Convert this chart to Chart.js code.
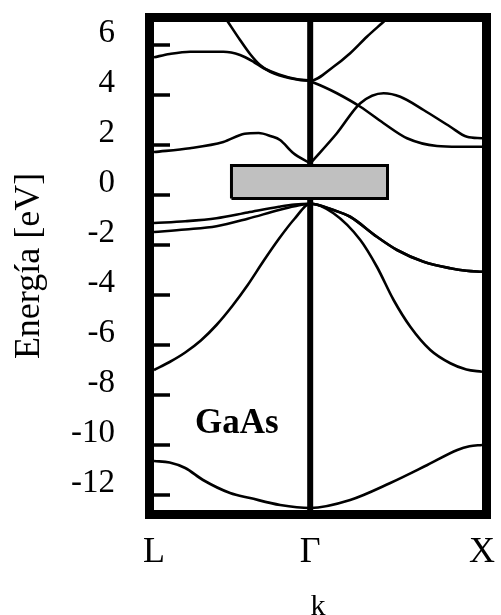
<!DOCTYPE html>
<html><head><meta charset="utf-8">
<script src="https://cdn.jsdelivr.net/npm/chart.js@4.4.1/dist/chart.umd.min.js"></script>
<style>html,body{margin:0;padding:0;background:#fff;overflow:hidden}canvas{display:block}</style>
</head><body>
<canvas id="c" width="501" height="615"></canvas>
<script>
// ---- axis definitions ----
const kPointLabels = ['L', 'Γ', 'X'];
const kPointValues = [-1, 0, 1.1];
const energyTicks = [6, 4, 2, 0, -2, -4, -6, -8, -10, -12];
const energyMin = -12.6, energyMax = 6.92;
const yTitle = 'Energía [eV]';
const xTitle = 'k';
const materialLabel = 'GaAs';

// ---- bands (k, E in eV) ----
const band1K = [-1, -0.9, -0.8, -0.686, -0.513, -0.385, -0.192, 0, 0.256, 0.513, 0.75, 0.942, 1.02, 1.1];
const band1E = [-10.64, -10.7, -10.92, -11.4, -11.92, -12.12, -12.4, -12.52, -12.2, -11.52, -10.8, -10.2, -10.05, -10.0];

const band2K = [-1, -0.9, -0.8, -0.7, -0.6, -0.5, -0.4, -0.3, -0.2, -0.1, 0, 0.149, 0.321, 0.427, 0.534, 0.641, 0.769, 0.897, 1.0, 1.1];
const band2E = [-7.0, -6.68, -6.3, -5.82, -5.2, -4.45, -3.6, -2.65, -1.75, -0.95, -0.35, -0.73, -1.8, -2.87, -4.2, -5.27, -6.2, -6.73, -6.98, -7.07];

const hhRightK = [0.149, 0.256, 0.427, 0.556, 0.726, 0.897, 1.0, 1.1];
const hhRightE = [-0.6, -0.87, -1.67, -2.2, -2.67, -2.93, -3.03, -3.07];

const band3LeftK = [-1, -0.8, -0.6, -0.4, -0.2, -0.1, 0];
const band3LeftE = [-1.12, -1.05, -0.93, -0.7, -0.47, -0.38, -0.35];
const band4LeftK = [-1, -0.8, -0.6, -0.4, -0.2, -0.1, 0];
const band4LeftE = [-1.48, -1.38, -1.25, -0.95, -0.6, -0.45, -0.35];

const condLeftK = [-1, -0.77, -0.556, -0.42, -0.33, -0.25, -0.193, -0.109, 0];
const condLeftE = [1.72, 1.87, 2.12, 2.45, 2.48, 2.35, 2.2, 1.68, 1.26];
const condRightK = [0, 0.171, 0.321, 0.47, 0.577, 0.726, 0.897, 1.004, 1.1];
const condRightE = [1.26, 2.47, 3.67, 4.07, 3.93, 3.4, 2.73, 2.33, 2.27];

const upperRightK = [0, 0.085, 0.171, 0.321, 0.47, 0.62, 0.812, 0.95, 1.1];
const upperRightE = [4.55, 4.33, 4.07, 3.53, 2.87, 2.27, 1.96, 1.93, 1.93];

const parabolaK = [-0.577, -0.526, -0.449, -0.385, -0.321, -0.256, -0.128, 0, 0.149, 0.256, 0.363, 0.47, 0.553];
const parabolaE = [7.4, 6.92, 6.2, 5.64, 5.2, 4.93, 4.67, 4.57, 5.13, 5.67, 6.33, 6.93, 7.4];

const upperLeftK = [-1, -0.9, -0.769, -0.556, -0.449, -0.363, -0.3, -0.2, -0.1, 0];
const upperLeftE = [5.51, 5.64, 5.73, 5.73, 5.6, 5.33, 5.08, 4.82, 4.65, 4.57];

// gap box and Γ line
const gapBoxK = [-0.504, -0.504, 0.495, 0.495, -0.504];
const gapBoxE = [-0.14, 1.18, 1.18, -0.14, -0.14];
const gammaLineK = [0, 0];
const gammaLineE = [energyMin - 1, energyMax + 1];

function pts(ks, es) { return ks.map((k, i) => ({ x: k, y: es[i] })); }
function join(aK, aE, bK, bE) { return pts(aK.concat(bK), aE.concat(bE)); }

const bandStyle = { borderColor: '#000', borderWidth: 2.6, pointRadius: 0, fill: false, cubicInterpolationMode: 'monotone', order: 1 };

const datasets = [
  { data: pts(gapBoxK, gapBoxE), borderColor: '#000', borderWidth: 3, backgroundColor: '#c0c0c0', fill: 'shape', pointRadius: 0, tension: 0, borderJoinStyle: 'miter', order: 0 },
  Object.assign({ data: pts(band1K, band1E) }, bandStyle),
  Object.assign({ data: pts(band2K, band2E) }, bandStyle),
  Object.assign({ data: join(band3LeftK, band3LeftE, hhRightK, hhRightE) }, bandStyle),
  Object.assign({ data: join(band4LeftK, band4LeftE, hhRightK, hhRightE) }, bandStyle),
  Object.assign({ data: pts(condLeftK, condLeftE) }, bandStyle),
  Object.assign({ data: pts(condRightK, condRightE) }, bandStyle),
  Object.assign({ data: pts(upperRightK, upperRightE) }, bandStyle),
  Object.assign({ data: pts(parabolaK, parabolaE) }, bandStyle),
  Object.assign({ data: pts(upperLeftK, upperLeftE) }, bandStyle),
  { data: pts(gammaLineK, gammaLineE), borderColor: '#000', borderWidth: 6, pointRadius: 0, fill: false, tension: 0, order: 2 }
];

const framePlugin = {
  id: 'frame',
  beforeDraw(chart) {
    const { ctx, width, height } = chart;
    ctx.save(); ctx.fillStyle = '#fff'; ctx.fillRect(0, 0, width, height); ctx.restore();
  },
  afterDatasetsDraw(chart) {
    const { ctx, chartArea: a, scales: { x, y } } = chart;
    ctx.save();
    ctx.strokeStyle = '#000';
    ctx.lineWidth = 3.5;
    y.ticks.forEach(t => {
      const py = y.getPixelForValue(t.value);
      ctx.beginPath(); ctx.moveTo(a.left, py); ctx.lineTo(a.left + 16, py); ctx.stroke();
    });
    ctx.lineWidth = 9; ctx.lineJoin = 'miter';
    ctx.strokeRect(a.left - 4.5, a.top - 4.5, a.right - a.left + 9, a.bottom - a.top + 9);
    ctx.font = "bold 35px 'Liberation Serif', serif";
    ctx.textAlign = 'center'; ctx.textBaseline = 'alphabetic'; ctx.fillStyle = '#000';
    ctx.fillText(materialLabel, x.getPixelForValue(-0.47), y.getPixelForValue(-9.52));
    ctx.restore();
  }
};

Chart.defaults.font.family = "'Liberation Serif', 'Times New Roman', serif";
Chart.defaults.color = '#000';

const hiddenGrid = (len) => ({ display: true, drawOnChartArea: false, drawTicks: true, tickLength: len, tickColor: 'rgba(0,0,0,0)', color: 'rgba(0,0,0,0)' });

new Chart(document.getElementById('c'), {
  type: 'line',
  data: { datasets },
  plugins: [framePlugin],
  options: {
    responsive: false,
    devicePixelRatio: 1,
    animation: false,
    layout: { padding: { top: 22, right: 19, left: 0, bottom: 0 } },
    plugins: { legend: { display: false }, tooltip: { enabled: false } },
    scales: {
      x: {
        type: 'linear', min: kPointValues[0], max: kPointValues[2],
        grid: hiddenGrid(21), border: { display: false },
        afterBuildTicks: s => { s.ticks = kPointValues.map(v => ({ value: v })); },
        ticks: { callback: (v, i) => kPointLabels[i], font: { size: 36 }, padding: 0, maxRotation: 0, autoSkip: false, color: '#000' },
        title: { display: true, text: xTitle, font: { size: 30, lineHeight: 0.5 }, padding: 0, color: '#000' },
        afterFit: s => { s.height = 105; }
      },
      y: {
        type: 'linear', min: energyMin, max: energyMax,
        grid: hiddenGrid(39), border: { display: false },
        afterBuildTicks: s => { s.ticks = energyTicks.map(v => ({ value: v })); },
        ticks: { callback: v => String(v), font: { size: 33 }, padding: 0, labelOffset: -12, color: '#000' },
        title: { display: true, text: yTitle, font: { size: 36 }, padding: { top: 8, bottom: 0 }, color: '#000' },
        afterFit: s => { s.width = 154; }
      }
    }
  }
});
</script>
</body></html>
